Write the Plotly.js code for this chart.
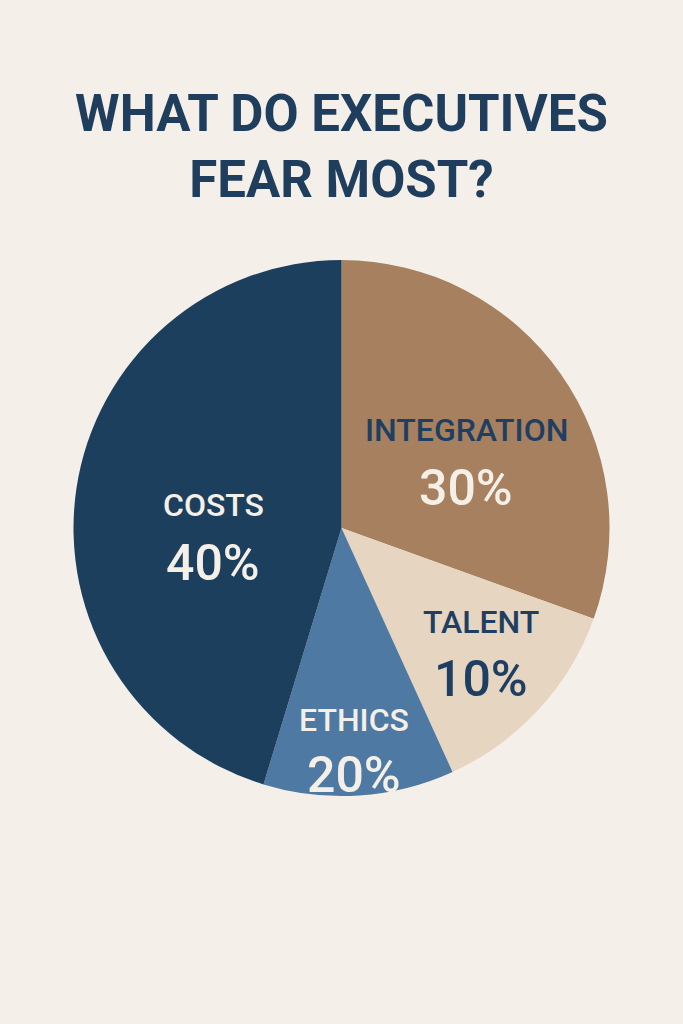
<!DOCTYPE html>
<html>
<head>
<meta charset="utf-8">
<script src="https://cdn.plot.ly/plotly-3.0.1.min.js"></script>
<style>html,body{margin:0;padding:0;background:#f4f0e9;}#chart{width:683px;height:1024px;}</style>
</head>
<body>
<div id="chart"></div>
<script>
// Categories in drawing order (clockwise from 12 o'clock)
const categories = ["INTEGRATION", "TALENT", "ETHICS", "COSTS"];
// Slice shares as drawn in the picture (degrees converted to %)
const sliceShares = [30.5, 12.7, 11.5, 45.3];
// Percentages printed on the chart
const statedLabels = ["30%", "10%", "20%", "40%"];
const sliceColors = ["#a6805f", "#e6d5c0", "#4e79a2", "#1d3f5e"];
const nameColors = ["#1f3f62", "#1f3f62", "#f4efe7", "#f4efe7"];
const pctColors  = ["#f4efe7", "#1f3f62", "#f4efe7", "#f4efe7"];

// label anchor positions (pixel space of 683x1024 page)
const labelX = [466, 481, 354, 213];
const nameY  = [430, 622, 720, 505];
const pctY   = [488, 679, 775, 563];

const W = 683, H = 1024;
const annotations = [];
categories.forEach((c, i) => {
  annotations.push({
    text: c, xref: "paper", yref: "paper",
    x: labelX[i] / W, y: 1 - nameY[i] / H, xanchor: "center", yanchor: "middle",
    showarrow: false,
    font: {family: "Roboto", size: 32, weight: 500, color: nameColors[i]}
  });
  annotations.push({
    text: statedLabels[i], xref: "paper", yref: "paper",
    x: labelX[i] / W, y: 1 - pctY[i] / H, xanchor: "center", yanchor: "middle",
    showarrow: false,
    font: {family: "Roboto", size: 50, weight: 500, color: pctColors[i]}
  });
});

const data = [{
  type: "pie",
  labels: categories,
  values: sliceShares,
  sort: false,
  direction: "clockwise",
  rotation: 0,
  marker: {colors: sliceColors, line: {width: 0}},
  textinfo: "none",
  hoverinfo: "label",
  showlegend: false,
  domain: {x: [0, 1], y: [1 - 796 / H, 1 - 260 / H]}
}];

const layout = {
  width: W, height: H,
  margin: {l: 0, r: 0, t: 0, b: 0},
  paper_bgcolor: "#f4f0e9",
  plot_bgcolor: "#f4f0e9",
  showlegend: false,
  title: {
    text: "WHAT DO EXECUTIVES<br>FEAR MOST?",
    x: 0.5, xanchor: "center",
    y: 1 - 131 / H, yanchor: "middle", yref: "container",
    font: {family: "Roboto", size: 51, weight: 700, color: "#1f3d5c"}
  },
  annotations: annotations
};

Plotly.newPlot("chart", data, layout, {displayModeBar: false, staticPlot: true});
</script>
</body>
</html>
